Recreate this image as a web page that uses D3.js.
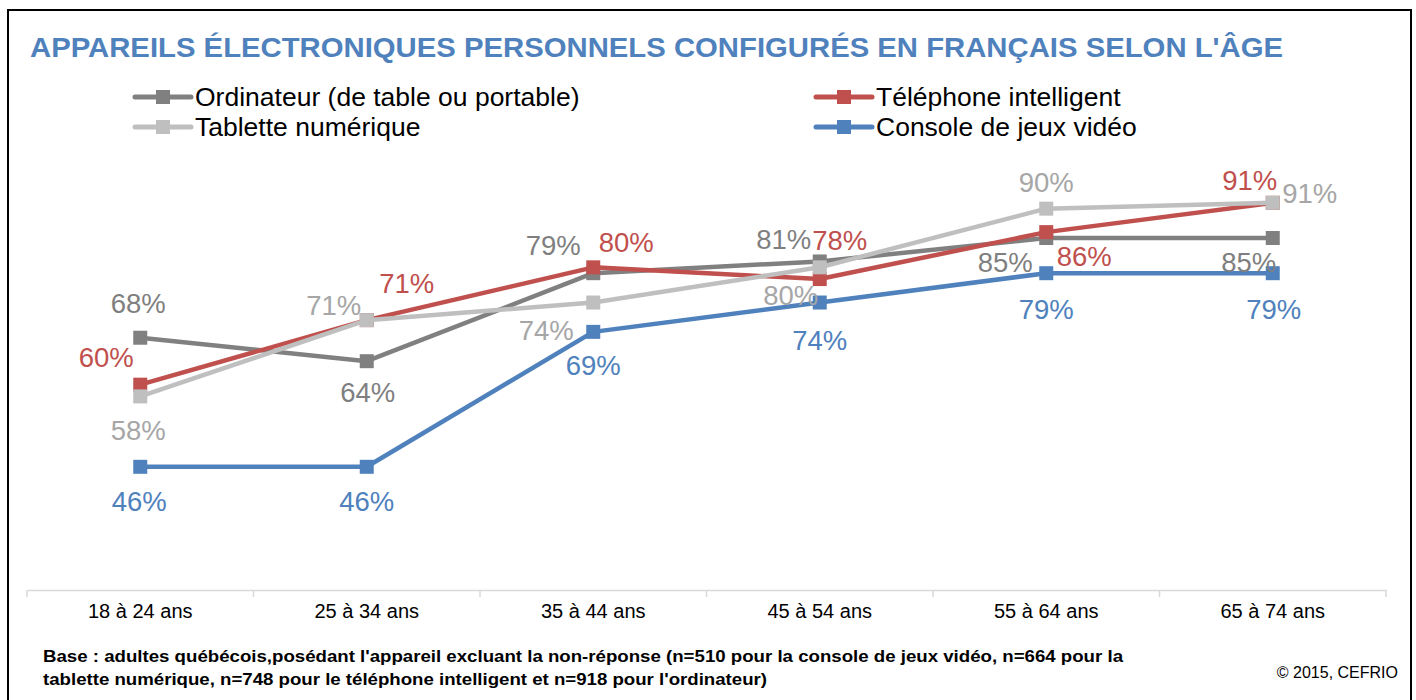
<!DOCTYPE html>
<html>
<head>
<meta charset="utf-8">
<script src="https://cdn.jsdelivr.net/npm/d3@7"></script>
<style>
  body { margin: 0; background: #fff; }
  svg { display: block; font-family: "Liberation Sans", Arial, sans-serif; }
</style>
</head>
<body>
<div id="chart"></div>
<script>
// Data
let ageGroups = ["18 à 24 ans", "25 à 34 ans", "35 à 44 ans", "45 à 54 ans", "55 à 64 ans", "65 à 74 ans"];
let ordinateur = [68, 64, 79, 81, 85, 85];
let telephone = [60, 71, 80, 78, 86, 91];
let tablette = [58, 71, 74, 80, 90, 91];
let console_ = [46, 46, 69, 74, 79, 79];
let seriesNames = ["Ordinateur (de table ou portable)", "Téléphone intelligent", "Tablette numérique", "Console de jeux vidéo"];

let title = "APPAREILS ÉLECTRONIQUES PERSONNELS CONFIGURÉS EN FRANÇAIS SELON L'ÂGE";
let note1 = "Base : adultes québécois,posédant l'appareil excluant la non-réponse (n=510 pour la console de jeux vidéo, n=664 pour la";
let note2 = "tablette numérique, n=748 pour le téléphone intelligent et n=918 pour l'ordinateur)";
let credit = "© 2015, CEFRIO";

function lineChart(){
    let width = 1416, height = 700;

    // series styling (drawing order = legend order)
    let series = [
        {name: seriesNames[0], values: ordinateur, line: "#808080", text: "#7F7F7F",
            offs: [[-2,-34],[1,31],[-40,-28],[-36,-22],[-41,24],[-24,24]]},
        {name: seriesNames[1], values: telephone, line: "#C0504D", text: "#C0504D",
            offs: [[-34,-27],[40,-37],[33,-25],[20,-39],[38,24],[-23,-22]]},
        {name: seriesNames[2], values: tablette, line: "#BFBFBF", text: "#A6A6A6",
            offs: [[-2,34],[-33,-15],[-47,28],[-29,28],[0,-26],[37,-9]]},
        {name: seriesNames[3], values: console_, line: "#4F81BD", text: "#4F81BD",
            offs: [[-1,35],[0,35],[0,34],[0,38],[0,36],[1,36]]}
    ];

    let svg = d3.select("#chart").append("svg")
        .attr("width", width)
        .attr("height", height);

    // frame
    svg.append("rect")
        .attr("x", 8).attr("y", 10)
        .attr("width", 1403).attr("height", 700)
        .attr("fill", "none")
        .attr("stroke", "#000")
        .attr("stroke-width", 2);

    svg.append("text")
        .attr("x", 30).attr("y", 57)
        .attr("fill", "#4F81BD")
        .attr("font-weight", "bold")
        .attr("font-size", 28)
        .attr("textLength", 1253)
        .attr("lengthAdjust", "spacingAndGlyphs")
        .text(title);

    // Scales
    let x = d3.scaleBand().domain(ageGroups).range([27, 1386]);
    let cx = d => x(d) + x.bandwidth() / 2;
    let y = d3.scaleLinear().domain([25, 100]).range([590, 150]);

    // Axis
    let axis = svg.append("g")
        .attr("transform", "translate(0,590)")
        .call(d3.axisBottom(x).tickSize(0).tickPadding(14));
    axis.select(".domain").attr("stroke", "#D9D9D9").attr("stroke-width", 1.5);
    axis.selectAll(".tick text")
        .attr("font-family", "Liberation Sans, Arial, sans-serif")
        .attr("font-size", 20)
        .attr("fill", "#000");

    let bounds = ageGroups.map(d => x(d)).concat([x.range()[1]]);
    axis.selectAll(".bound")
        .data(bounds)
        .enter().append("line")
        .attr("class", "bound")
        .attr("x1", d => d).attr("x2", d => d)
        .attr("y1", 0).attr("y2", 7)
        .attr("stroke", "#D9D9D9")
        .attr("stroke-width", 1.5);

    // Lines + markers
    let line = d3.line()
        .x((d, i) => cx(ageGroups[i]))
        .y(d => y(d));

    series.forEach(s => {
        let g = svg.append("g");
        g.append("path")
            .datum(s.values)
            .attr("d", line)
            .attr("fill", "none")
            .attr("stroke", s.line)
            .attr("stroke-width", 4.5)
            .attr("stroke-linejoin", "round");
        g.selectAll("rect")
            .data(s.values)
            .enter().append("rect")
            .attr("x", (d, i) => cx(ageGroups[i]) - 7)
            .attr("y", d => y(d) - 7)
            .attr("width", 14).attr("height", 14)
            .attr("fill", s.line);
    });

    // Data labels
    series.forEach(s => {
        svg.append("g").selectAll("text")
            .data(s.values)
            .enter().append("text")
            .attr("x", (d, i) => cx(ageGroups[i]) + s.offs[i][0])
            .attr("y", (d, i) => y(d) + s.offs[i][1])
            .attr("dy", "0.35em")
            .attr("text-anchor", "middle")
            .attr("font-size", 27.5)
            .attr("fill", s.text)
            .text(d => d + "%");
    });

    // Legend
    let legendPos = [[135, 97], [816, 97], [135, 127], [816, 127]];
    series.forEach((s, i) => {
        let g = svg.append("g")
            .attr("transform", "translate(" + legendPos[i][0] + "," + legendPos[i][1] + ")");
        g.append("line")
            .attr("x1", 0).attr("x2", 56)
            .attr("stroke", s.line)
            .attr("stroke-width", 5)
            .attr("stroke-linecap", "round");
        g.append("rect")
            .attr("x", 21).attr("y", -7)
            .attr("width", 14).attr("height", 14)
            .attr("fill", s.line);
        g.append("text")
            .attr("x", 60).attr("dy", "0.35em")
            .attr("font-size", 26.5)
            .attr("fill", "#000")
            .text(s.name);
    });

    // Footnotes
    svg.append("text")
        .attr("x", 43).attr("y", 662)
        .attr("font-size", 16).attr("font-weight", "bold")
        .attr("textLength", 1080).attr("lengthAdjust", "spacingAndGlyphs")
        .text(note1);
    svg.append("text")
        .attr("x", 43).attr("y", 685)
        .attr("font-size", 16).attr("font-weight", "bold")
        .attr("textLength", 724).attr("lengthAdjust", "spacingAndGlyphs")
        .text(note2);
    svg.append("text")
        .attr("x", 1398).attr("y", 678)
        .attr("text-anchor", "end")
        .attr("font-size", 16)
        .text(credit);
}

lineChart();
</script>
</body>
</html>
